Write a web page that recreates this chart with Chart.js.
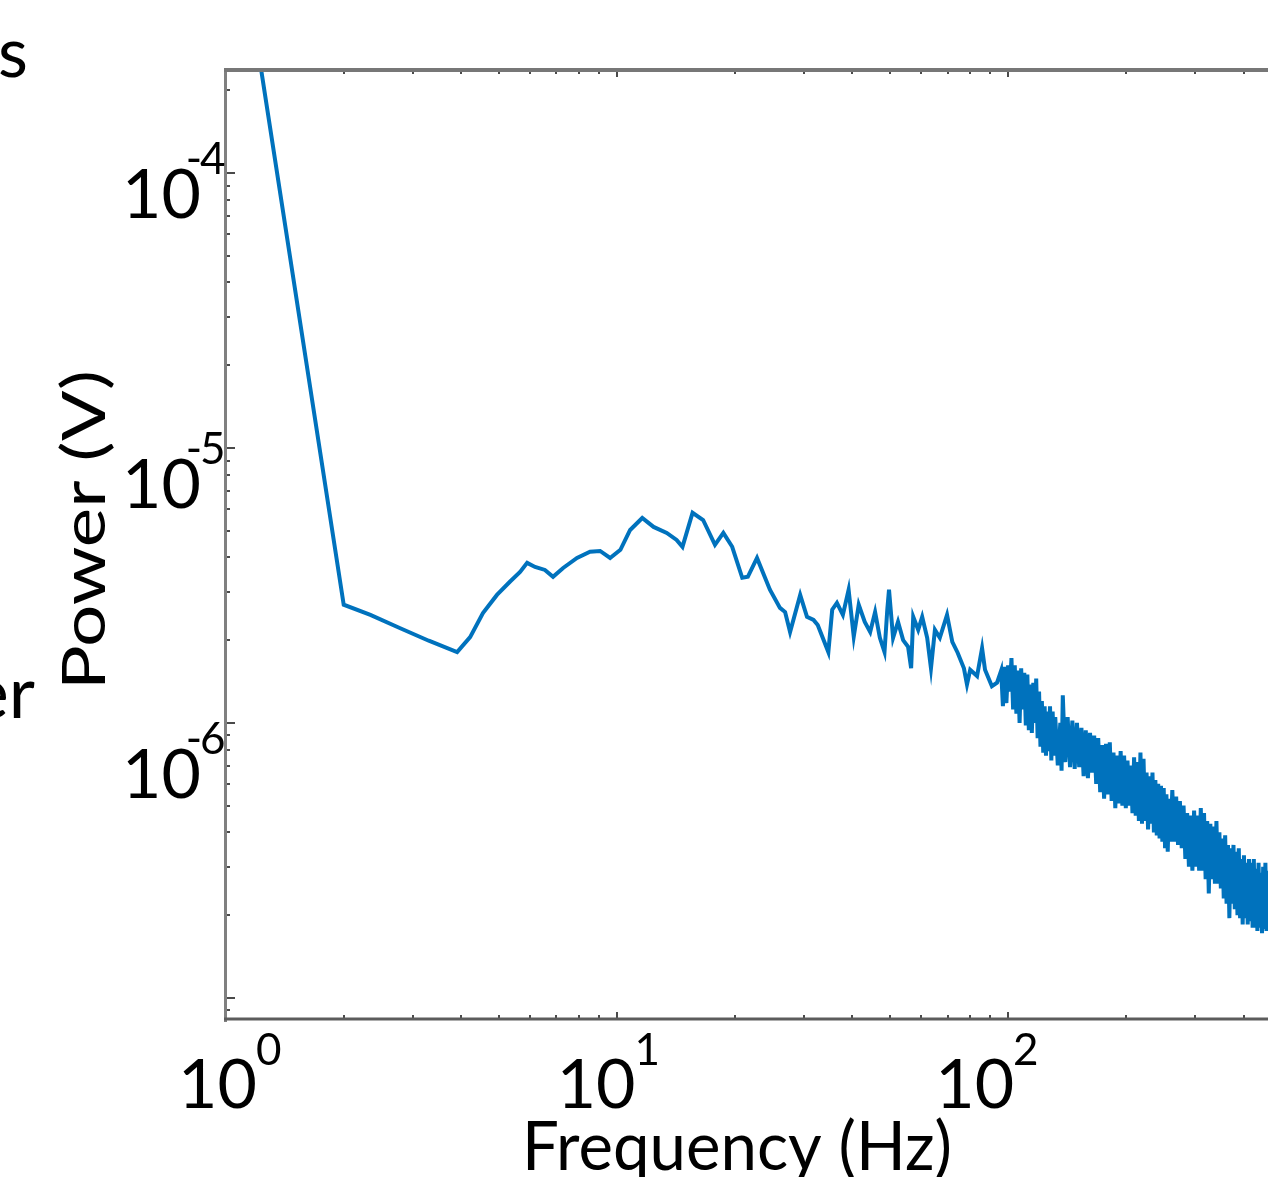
<!DOCTYPE html>
<html>
<head>
<meta charset="utf-8">
<script src="https://cdn.jsdelivr.net/npm/chart.js@4.4.1/dist/chart.umd.min.js"></script>
<style>
  html, body { margin: 0; padding: 0; background: #fff; overflow: hidden; }
</style>
</head>
<body>
<canvas id="psd" width="1268" height="1177"></canvas>
<script>
// power spectrum (Hz, V)
const freqHz = [
  1.0, 2.0, 2.34, 2.79, 3.3, 3.9, 4.21, 4.54, 4.93, 5.32,
  5.65, 5.89, 6.17, 6.54, 6.86, 7.28, 7.9, 8.53, 9.05, 9.6,
  10.2, 10.8, 11.6, 12.4, 13.4, 14.2, 14.7, 15.6, 16.6, 17.8,
  18.7, 19.7, 20.9, 21.6, 22.8, 24.6, 26.1, 26.9, 27.7,
  29.4, 30.6, 31.8, 32.6, 34.7, 35.5, 36.5, 37.8, 39.1, 40.3,
  41.5, 43.0, 44.4, 45.7, 47.0, 48.3, 49.1, 49.6, 50.8, 52.3,
  53.9, 55.5, 56.5, 57.2, 58.9, 60.3, 62.1, 63.5, 65.0, 66.9,
  69.8, 72.0, 74.3, 77.1, 78.5, 80.0, 83.3, 85.8, 87.3, 90.9, 93.7,
  96, 97, 98, 99, 100, 101, 102, 103, 104, 105,
  106, 107, 108, 109, 110, 111, 112, 113, 114, 115,
  116, 117, 118, 119, 120, 121, 122, 123, 124, 125,
  126, 127, 128, 129, 130, 131, 132, 134, 136, 137,
  138, 140, 142, 144, 146, 148, 150, 152, 154, 156,
  158, 160, 162, 164, 166, 168, 170, 172, 174, 176,
  178, 180, 182, 184, 186, 188, 190, 192, 194, 196,
  198, 200, 202, 204, 206, 208, 210, 212, 214, 216,
  218, 220, 222, 224, 226, 228, 230, 232, 234, 236,
  238, 240, 242, 244, 246, 248, 250, 252, 254, 256,
  258, 260, 263, 266, 269, 272, 275, 278, 281, 284,
  287, 290, 293, 296, 299, 302, 305, 308, 311, 314,
  317, 320, 323, 326, 329, 332, 335, 338, 341, 344,
  347, 350, 353, 356, 359, 362, 365, 368, 371, 374,
  377, 380, 383, 386, 389, 392, 395, 398, 401, 404,
  407, 410, 413, 416, 419, 422, 425, 428, 431, 434,
  437, 440, 443, 446, 449, 452, 455, 458, 461
];
const powerV = [
  1.6e-3, 2.69e-6, 2.47e-6, 2.21e-6, 1.99e-6, 1.81e-6, 2.05e-6, 2.51e-6, 2.92e-6, 3.26e-6,
  3.54e-6, 3.82e-6, 3.69e-6, 3.60e-6, 3.40e-6, 3.66e-6, 3.98e-6, 4.19e-6, 4.22e-6, 3.98e-6,
  4.26e-6, 5.03e-6, 5.56e-6, 5.16e-6, 4.91e-6, 4.63e-6, 4.37e-6, 5.81e-6, 5.47e-6, 4.44e-6,
  4.91e-6, 4.37e-6, 3.37e-6, 3.40e-6, 3.98e-6, 3.05e-6, 2.62e-6, 2.53e-6, 2.14e-6,
  2.92e-6, 2.43e-6, 2.37e-6, 2.27e-6, 1.81e-6, 2.58e-6, 2.73e-6, 2.47e-6, 3.05e-6, 2.06e-6,
  2.69e-6, 2.33e-6, 2.14e-6, 2.53e-6, 2.04e-6, 1.81e-6, 2.58e-6, 3.05e-6, 2.04e-6, 2.33e-6,
  2.00e-6, 1.89e-6, 1.58e-6, 2.43e-6, 2.18e-6, 2.43e-6, 2.04e-6, 1.58e-6, 2.18e-6, 2.04e-6,
  2.47e-6, 1.97e-6, 1.80e-6, 1.58e-6, 1.38e-6, 1.56e-6, 1.48e-6, 1.87e-6, 1.56e-6, 1.36e-6, 1.40e-6,
  1.55e-6, 1.15e-6, 1.60e-6, 1.18e-6, 1.62e-6, 1.30e-6, 1.72e-6, 1.12e-6, 1.62e-6, 1.08e-6,
  1.55e-6, 1.00e-6, 1.58e-6, 1.12e-6, 1.52e-6, 9.8e-7, 1.50e-6, 9.4e-7, 1.38e-6, 9.2e-7,
  1.40e-6, 1.00e-6, 1.45e-6, 8.8e-7, 1.30e-6, 8.2e-7, 1.20e-6, 7.8e-7, 1.15e-6, 7.6e-7,
  1.10e-6, 7.9e-7, 1.15e-6, 7.3e-7, 1.10e-6, 7.6e-7, 1.05e-6, 7.0e-7, 1.00e-6, 6.7e-7,
  1.26e-6, 7.2e-7, 1.05e-6, 6.9e-7, 1.02e-6, 6.8e-7, 1.00e-6, 6.9e-7, 9.6e-7, 6.4e-7,
  9.4e-7, 6.3e-7, 9.2e-7, 6.6e-7, 9.0e-7, 6.0e-7, 8.8e-7, 5.6e-7, 8.3e-7, 5.3e-7,
  8.4e-7, 5.5e-7, 8.5e-7, 5.2e-7, 7.8e-7, 4.9e-7, 7.6e-7, 5.1e-7, 7.9e-7, 5.0e-7,
  7.6e-7, 4.9e-7, 7.3e-7, 5.0e-7, 7.0e-7, 4.7e-7, 7.5e-7, 4.6e-7, 7.2e-7, 4.4e-7,
  7.8e-7, 4.3e-7, 7.4e-7, 4.4e-7, 6.6e-7, 4.1e-7, 6.4e-7, 4.3e-7, 6.6e-7, 4.0e-7,
  6.2e-7, 3.9e-7, 6.0e-7, 3.8e-7, 5.9e-7, 3.7e-7, 5.8e-7, 3.5e-7, 5.5e-7, 3.4e-7,
  5.3e-7, 3.7e-7, 5.7e-7, 3.7e-7, 5.4e-7, 3.6e-7, 5.2e-7, 3.5e-7, 5.0e-7, 3.2e-7,
  4.7e-7, 3.0e-7, 4.6e-7, 2.9e-7, 4.8e-7, 3.0e-7, 4.6e-7, 2.9e-7, 4.9e-7, 2.9e-7,
  4.7e-7, 2.7e-7, 4.4e-7, 2.4e-7, 4.3e-7, 2.7e-7, 4.2e-7, 2.6e-7, 4.4e-7, 2.6e-7,
  4.0e-7, 2.5e-7, 3.8e-7, 2.3e-7, 3.9e-7, 2.2e-7, 3.6e-7, 1.95e-7, 3.5e-7, 2.2e-7,
  3.6e-7, 2.1e-7, 3.4e-7, 2.0e-7, 3.5e-7, 1.95e-7, 3.2e-7, 1.85e-7, 3.3e-7, 1.95e-7,
  3.1e-7, 1.85e-7, 3.2e-7, 1.9e-7, 3.1e-7, 1.8e-7, 3.2e-7, 1.8e-7, 2.95e-7, 1.75e-7,
  3.1e-7, 1.8e-7, 2.85e-7, 1.72e-7, 3.0e-7, 1.78e-7, 3.1e-7, 1.75e-7, 2.9e-7
];

// axis labels
const xTickValues = [1, 10, 100];
const xTickExps = ['0', '1', '2'];
const yTickValues = [1e-4, 1e-5, 1e-6];
const yTickExps = ['-4', '-5', '-6'];
const minorMults = [1, 2, 3, 4, 5, 6, 7, 8, 9];

const FONT = 'Lato, "Open Sans", sans-serif';

function drawPow(ctx, exp, xRight, baseY, supDy) {
  ctx.textBaseline = 'alphabetic';
  ctx.font = '68px ' + FONT;
  ctx.textAlign = 'right';
  ctx.fillText('10', xRight, baseY);
  ctx.font = '44px ' + FONT;
  const digits = exp.replace('-', '');
  ctx.textAlign = 'left';
  ctx.fillText(digits, xRight - 1, baseY - supDy);
  if (exp.startsWith('-')) {
    ctx.textAlign = 'right';
    ctx.fillText('-', xRight + 1, baseY - supDy);
  }
}

function fitText(ctx, text, font, width) {
  ctx.font = font;
  return width / ctx.measureText(text).width;
}

const framePlugin = {
  id: 'frame',
  afterDraw(chart) {
    const ctx = chart.ctx;
    const { left, right, top, bottom } = chart.chartArea;
    const xs = chart.scales.x, ys = chart.scales.y;
    ctx.save();

    // tick marks pointing inward
    ctx.strokeStyle = '#4a4a4a';
    ctx.lineWidth = 2;
    ctx.beginPath();
    for (let e = 0; e <= 3; e++) {
      for (const m of minorMults) {
        const v = m * Math.pow(10, e);
        if (v < xs.min || v > xs.max) continue;
        const px = Math.round(xs.getPixelForValue(v));
        const len = m === 1 ? 8 : 5;
        ctx.moveTo(px, bottom); ctx.lineTo(px, bottom - len);
        ctx.moveTo(px, top); ctx.lineTo(px, top + len - 1);
      }
    }
    for (let e = -8; e <= -3; e++) {
      for (const m of minorMults) {
        const v = m * Math.pow(10, e);
        if (v < ys.min || v > ys.max) continue;
        const py = Math.round(ys.getPixelForValue(v));
        ctx.moveTo(left, py); ctx.lineTo(left + (m === 1 ? 9 : 4), py);
      }
    }
    ctx.stroke();

    // box lines (left, top, bottom; right side is off the picture)
    ctx.lineCap = 'butt';
    ctx.strokeStyle = '#808080';
    ctx.lineWidth = 3;
    ctx.beginPath();
    ctx.moveTo(left - 0.5, top - 2); ctx.lineTo(left - 0.5, bottom + 2);
    ctx.stroke();
    ctx.strokeStyle = '#777';
    ctx.lineWidth = 4;
    ctx.beginPath();
    ctx.moveTo(left - 2, top); ctx.lineTo(right, top);
    ctx.stroke();
    ctx.strokeStyle = '#5c5c5c';
    ctx.lineWidth = 3;
    ctx.beginPath();
    ctx.moveTo(left - 2, bottom - 1); ctx.lineTo(right, bottom - 1);
    ctx.stroke();

    // tick labels
    ctx.fillStyle = '#000';
    yTickValues.forEach((v, i) => {
      const py = ys.getPixelForValue(v);
      const k = Math.log10(v) + 5;
      drawPow(ctx, yTickExps[i], 201, py + 60 - 15 * k, 44);
    });
    xTickValues.forEach((v, i) => {
      const px = xs.getPixelForValue(v);
      const k = Math.log10(v);
      drawPow(ctx, xTickExps[i], px + 31 - 12.5 * k, bottom + 88, 43);
    });

    // axis titles
    const fx = fitText(ctx, 'Frequency (Hz)', '67px ' + FONT, 430);
    ctx.save();
    ctx.translate(737, 1170);
    ctx.scale(fx, 1);
    ctx.textAlign = 'center';
    ctx.fillText('Frequency (Hz)', 0, 0);
    ctx.restore();

    const fy = fitText(ctx, 'Power (V)', '60px ' + FONT, 320);
    ctx.save();
    ctx.translate(105, 530);
    ctx.rotate(-Math.PI / 2);
    ctx.scale(fy, 1);
    ctx.textAlign = 'center';
    ctx.fillText('Power (V)', 0, 0);
    ctx.restore();

    // fragments of neighbouring text at the left edge
    ctx.font = '69px ' + FONT;
    ctx.textAlign = 'left';
    ctx.fillText('s', -2, 77);
    ctx.font = '72px ' + FONT;
    ctx.textAlign = 'right';
    ctx.fillText('er', 35, 718);

    ctx.restore();
  }
};

const points = freqHz.map((f, i) => ({ x: f, y: powerV[i] }));

new Chart(document.getElementById('psd'), {
  type: 'line',
  data: {
    datasets: [{
      data: points,
      borderColor: '#0072BD',
      borderWidth: 4,
      pointRadius: 0,
      tension: 0,
      fill: false
    }]
  },
  options: {
    animation: false,
    responsive: false,
    events: [],
    layout: { padding: { left: 226, top: 70, right: 0, bottom: 157 } },
    plugins: { legend: { display: false }, tooltip: { enabled: false } },
    scales: {
      x: {
        type: 'logarithmic',
        display: false,
        min: 1,
        max: 462
      },
      y: {
        type: 'logarithmic',
        display: false,
        min: 8.31e-8,
        max: 2.368e-4
      }
    }
  },
  plugins: [framePlugin]
});
</script>
</body>
</html>
